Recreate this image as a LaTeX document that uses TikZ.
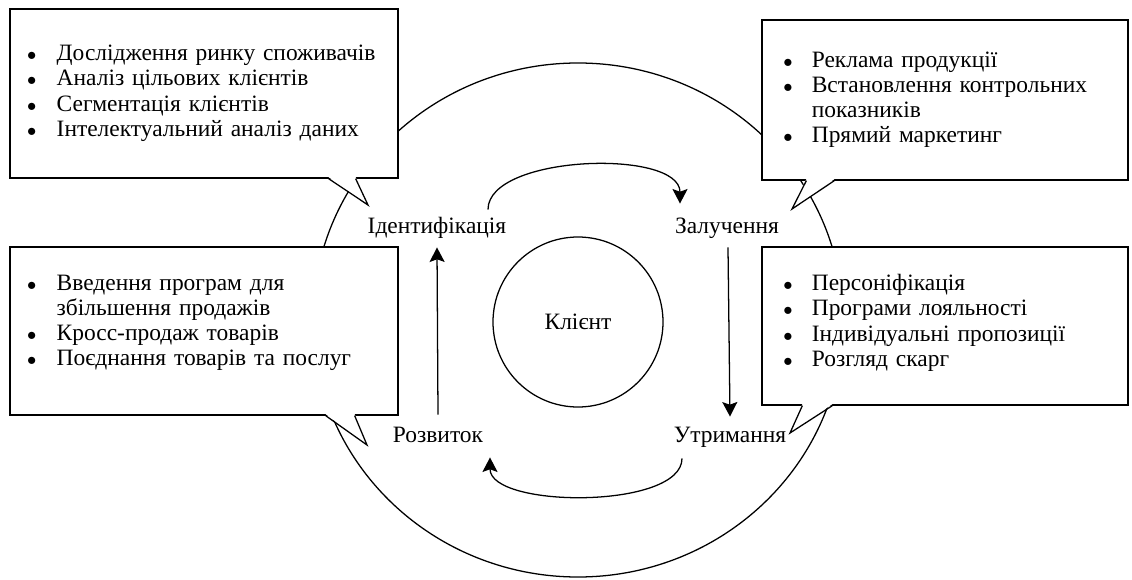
\documentclass[tikz,border=0pt]{standalone}
\usepackage{fontspec}
\setmainfont{Liberation Serif}
\usetikzlibrary{arrows.meta}
\usetikzlibrary{calc}

\begin{document}
\begin{tikzpicture} [
    x=0.55pt, y=-0.55pt,
    every node/.style = { font=\fontsize{12.9}{13.9}\selectfont },
    lbox/.style  = { rectangle, draw=black, fill=white, line width=0.7pt,
                     inner xsep=9.4pt, inner ysep=0pt, text width=194.6pt,
                     align=left },
    rbox/.style  = { lbox, inner xsep=11.8pt, text width=177.7pt },
    stage/.style = { inner sep=2pt, text height=8.5pt, text depth=3pt, anchor=base },
    tail/.style  = { draw=black, line width=0.7pt, line join=miter },
    line/.style  = { draw, line width=0.7pt, -{Stealth[length=8pt, width=8.3pt, inset=1.5pt]} },
  ]
  \useasboundingbox (0,0) rectangle (1132,580);

%grosser Kreis und Kunde
  \draw[line width=0.7pt] (578,320) ellipse [x radius=265, y radius=257];
  \node [circle, draw, line width=0.7pt, minimum size=93.5pt, inner sep=0pt]
        (klient) at (578,322) {Клієнт};

%Kaesten (b1 = oben links, b2 = oben rechts, b3 = unten links, b4 = unten rechts)
  \node [lbox, minimum height=93pt] (b1) at (204,93.5) {\noindent
        \begin{tabular}{@{}l@{\hspace{11.2pt}}l@{}}
        \scalebox{0.85}{$\bullet$} & Дослідження ринку споживачів \\
        \scalebox{0.85}{$\bullet$} & Аналіз цільових клієнтів \\
        \scalebox{0.85}{$\bullet$} & Сегментація клієнтів \\
        \scalebox{0.85}{$\bullet$} & Інтелектуальний аналіз даних\rule[-4pt]{0pt}{1pt}
        \end{tabular}};
  \node [rbox, minimum height=88pt] (b2) at (945,100) {\noindent
        \begin{tabular}{@{}l@{\hspace{10.5pt}}l@{}}
        \scalebox{0.85}{$\bullet$} & Реклама продукції \\
        \scalebox{0.85}{$\bullet$} & Встановлення контрольних \\
          & показників \\
        \scalebox{0.85}{$\bullet$} & Прямий маркетинг
        \end{tabular}};
  \node [lbox, minimum height=92.4pt] (b3) at (204,331) {\noindent
        \begin{tabular}{@{}l@{\hspace{11.2pt}}l@{}}
        \scalebox{0.85}{$\bullet$} & Введення програм для \\
          & збільшення продажів \\
        \scalebox{0.85}{$\bullet$} & Кросс-продаж товарів \\
        \scalebox{0.85}{$\bullet$} & Поєднання товарів та послуг\rule[-13pt]{0pt}{1pt}
        \end{tabular}};
  \node [rbox, minimum height=86.9pt] (b4) at (945,326) {\noindent
        \begin{tabular}{@{}l@{\hspace{10.5pt}}l@{}}
        \scalebox{0.85}{$\bullet$} & Персоніфікація \\
        \scalebox{0.85}{$\bullet$} & Програми лояльності \\
        \scalebox{0.85}{$\bullet$} & Індивідуальні пропозиції \\
        \scalebox{0.85}{$\bullet$} & Розгляд скарг\rule[-7pt]{0pt}{1pt}
        \end{tabular}};

%Etappen
  \node [stage] (ident) at (437,233) {Ідентифікація};
  \node [stage] (zal)   at (727,233) {Залучення};
  \node [stage] (rozv)  at (438,442) {Розвиток};
  \node [stage] (utr)   at (730,442) {Утримання};

%Spitzen der Sprechblasen
  \coordinate (t1) at (368,205);
  \coordinate (t2) at (792,209);
  \coordinate (t3) at (367,445);
  \coordinate (t4) at (790,433);

  \path[fill=white] ($(b1.south east)+(-70,-1.5)$) -- (t1) -- ($(b1.south east)+(-43,-1.5)$) -- cycle;
  \path[tail] ($(b1.south east)+(-70,0)$) -- (t1) -- ($(b1.south east)+(-43,0)$);
  \path[fill=white] ($(b2.south west)+(45,-1.5)$) -- (t2) -- ($(b2.south west)+(73,-1.5)$) -- cycle;
  \path[tail] ($(b2.south west)+(45,0)$) -- (t2) -- ($(b2.south west)+(73,0)$);
  \path[fill=white] ($(b3.south east)+(-73,-1.5)$) -- (t3) -- ($(b3.south east)+(-44,-1.5)$) -- cycle;
  \path[tail] ($(b3.south east)+(-73,0)$) -- (t3) -- ($(b3.south east)+(-44,0)$);
  \path[fill=white] ($(b4.south west)+(41,-1.5)$) -- (t4) -- ($(b4.south west)+(71,-1.5)$) -- cycle;
  \path[tail] ($(b4.south west)+(41,0)$) -- (t4) -- ($(b4.south west)+(71,0)$);

%Pfeile im Kreis
  \path[line] ($(ident.north)+(51,-4)$) .. controls +(0,-55) and +(0,-55) .. ($(zal.north)+(-47,-10)$);
  \path[line] ($(zal.south)+(1,5)$) -- ($(utr.north)+(0,-6)$);
  \path[line] ($(utr.south)+(-48,7)$) .. controls +(0,51) and +(0,51) .. ($(rozv.south)+(52,6)$);
  \path[line] ($(rozv.north)+(0,-8)$) -- ($(ident.south)+(0,5)$);
\end{tikzpicture}
\end{document}
